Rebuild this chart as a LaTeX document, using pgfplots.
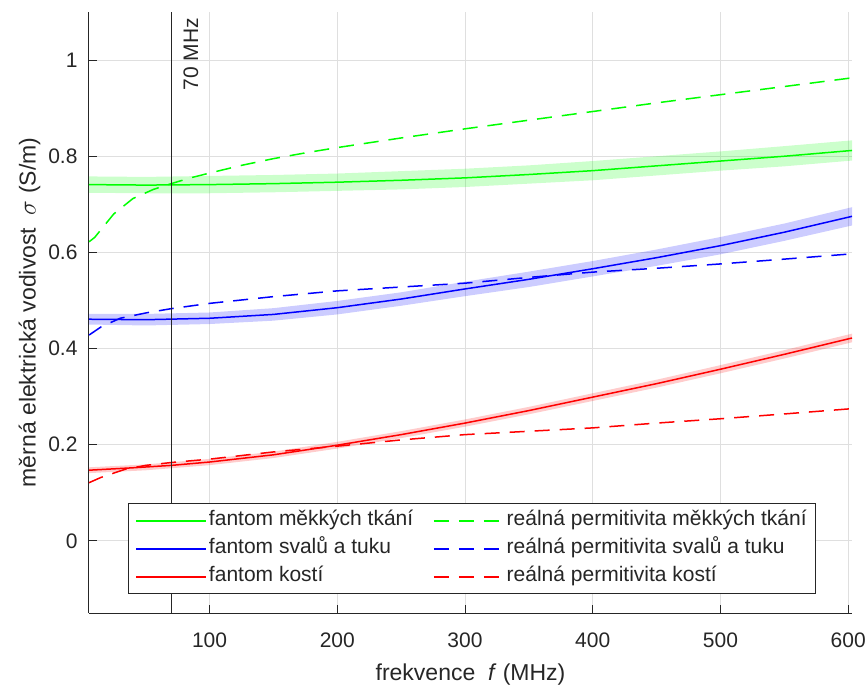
\documentclass[border=0pt]{standalone}
\usepackage{fontspec}
\setmainfont{Liberation Sans}
\usepackage{pgfplots}
\pgfplotsset{compat=1.18}

\definecolor{txt}{HTML}{262626}
\definecolor{gridc}{HTML}{DFDFDF}
\definecolor{mgreen}{RGB}{0,255,0}
\definecolor{mblue}{RGB}{0,0,255}
\definecolor{mred}{RGB}{255,0,0}

\begin{document}
\begin{tikzpicture}
\useasboundingbox (-89pt,-75pt) rectangle (778pt,613pt);
\begin{axis}[
    scale only axis,
    width=763pt,
    height=601pt,
    xmin=5.6, xmax=603,
    ymin=-0.15, ymax=1.1,
    axis x line*=bottom,
    axis y line*=left,
    axis line style={txt, line width=1pt},
    tick align=inside,
    major tick length=8pt,
    tick style={txt, line width=1pt},
    xtick={100,200,300,400,500,600},
    xticklabels={100,200,300,400,500,600},
    ytick={0,0.2,0.4,0.6,0.8,1},
    yticklabels={0,0.2,0.4,0.6,0.8,1},
    ticklabel style={font=\fontsize{21}{25}\selectfont, text=txt},
    xticklabel style={yshift=-16pt},
    yticklabel style={xshift=-8pt},
    grid=major,
    grid style={gridc, line width=1pt},
    xlabel={frekvence\hspace{0.55em}\textit{f} (MHz)},
    ylabel={měrná elektrická vodivost\hspace{0.55em}$\sigma$ (S/m)},
    label style={font=\fontsize{23}{27}\selectfont, text=txt},
    xlabel style={at={(axis description cs:0.5,-0.1131)}, anchor=base},
    ylabel style={at={(axis description cs:-0.0701,0.5)}, anchor=base},
    legend columns=2,
    legend cell align=left,
    legend image code/.code={\draw[#1] (0pt,0pt) -- (70pt,0pt);},
    legend style={
        at={(axis description cs:0.0511,0.031)},
        anchor=south west,
        draw=txt, line width=1pt, fill=white,
        font=\fontsize{21}{25}\selectfont,
        row sep=4pt,
        inner xsep=7pt, inner ysep=5pt,
        nodes={inner sep=2pt, text height=15pt, text depth=5pt},
        /tikz/every even column/.append style={column sep=18pt}
    },
]
% confidence bands
\addplot[draw=none, fill=mgreen, fill opacity=0.2, forget plot] coordinates {
    (5.6,0.758) (50,0.757) (100,0.759) (150,0.761) (200,0.764) (250,0.769)
    (300,0.774) (350,0.781) (400,0.790) (450,0.800) (500,0.810) (550,0.821) (603,0.833)
    (603,0.791) (550,0.779) (500,0.770) (450,0.760) (400,0.750) (350,0.743)
    (300,0.736) (250,0.731) (200,0.728) (150,0.725) (100,0.723) (50,0.723) (5.6,0.724)
};
\addplot[draw=none, fill=mblue, fill opacity=0.2, forget plot] coordinates {
    (5.6,0.472) (50,0.472) (100,0.475) (150,0.484) (200,0.499) (250,0.517)
    (300,0.539) (350,0.560) (400,0.582) (450,0.606) (500,0.632) (550,0.660) (603,0.694)
    (603,0.656) (550,0.624) (500,0.596) (450,0.572) (400,0.550) (350,0.528)
    (300,0.509) (250,0.489) (200,0.471) (150,0.458) (100,0.451) (50,0.448) (5.6,0.450)
};
\addplot[draw=none, fill=mred, fill opacity=0.2, forget plot] coordinates {
    (5.6,0.153) (50,0.159) (100,0.1705) (150,0.1857) (200,0.206) (250,0.2282)
    (300,0.2525) (350,0.2787) (400,0.307) (450,0.3352) (500,0.3655) (550,0.3967) (603,0.431)
    (603,0.413) (550,0.3793) (500,0.3485) (450,0.3188) (400,0.291) (350,0.2633)
    (300,0.2375) (250,0.2138) (200,0.192) (150,0.1723) (100,0.1575) (50,0.1468) (5.6,0.141)
};
% soft tissue
\addplot[draw=mgreen, line width=1.5pt] coordinates {
    (5.6,0.741) (50,0.740) (100,0.741) (150,0.743) (200,0.746) (250,0.750) (300,0.755)
    (350,0.762) (400,0.770) (450,0.780) (500,0.790) (550,0.800) (603,0.812)
};
\addplot[draw=mgreen, line width=1.5pt, dash pattern=on 15pt off 10pt] coordinates {
    (5.6,0.622) (10,0.631) (25,0.680) (40,0.712) (56,0.731) (70,0.743) (85,0.755)
    (100,0.765) (125,0.781) (150,0.795) (175,0.807) (200,0.818) (250,0.838)
    (300,0.857) (350,0.875) (400,0.893) (450,0.911) (500,0.928) (550,0.945) (603,0.963)
};
% muscle and fat
\addplot[draw=mblue, line width=1.5pt] coordinates {
    (5.6,0.461) (50,0.460) (100,0.463) (150,0.471) (200,0.485) (250,0.503) (300,0.524)
    (350,0.544) (400,0.566) (450,0.589) (500,0.614) (550,0.642) (603,0.675)
};
\addplot[draw=mblue, line width=1.5pt, dash pattern=on 15pt off 10pt] coordinates {
    (5.6,0.428) (15,0.445) (30,0.463) (50,0.474) (70,0.483) (100,0.494) (150,0.508)
    (200,0.520) (250,0.528) (300,0.536) (350,0.548) (400,0.559) (450,0.567)
    (500,0.576) (550,0.586) (603,0.597)
};
% bone
\addplot[draw=mred, line width=1.5pt] coordinates {
    (5.6,0.147) (40,0.152) (70,0.157) (100,0.164) (150,0.179) (200,0.199) (250,0.221)
    (300,0.245) (350,0.271) (400,0.299) (450,0.327) (500,0.357) (550,0.388) (603,0.422)
};
\addplot[draw=mred, line width=1.5pt, dash pattern=on 15pt off 10pt] coordinates {
    (5.6,0.121) (15,0.132) (34,0.149) (50,0.157) (70,0.163) (100,0.170) (150,0.185)
    (200,0.197) (250,0.210) (300,0.221) (350,0.228) (400,0.235) (450,0.245)
    (500,0.254) (550,0.264) (603,0.275)
};
% 70 MHz marker
\addplot[draw=txt, line width=1pt, forget plot] coordinates {(70,-0.15) (70,1.1)};
\node[xshift=8.7pt, yshift=-2.7pt, rotate=90, anchor=north east,
      font=\fontsize{21}{25}\selectfont, text=txt] at (axis cs:70,1.1) {70 MHz};
\legend{\textcolor{txt}{fantom měkkých tkání}, \textcolor{txt}{reálná permitivita měkkých tkání},
        \textcolor{txt}{fantom svalů a tuku}, \textcolor{txt}{reálná permitivita svalů a tuku},
        \textcolor{txt}{fantom kostí}, \textcolor{txt}{reálná permitivita kostí}}
\end{axis}
\end{tikzpicture}
\end{document}
